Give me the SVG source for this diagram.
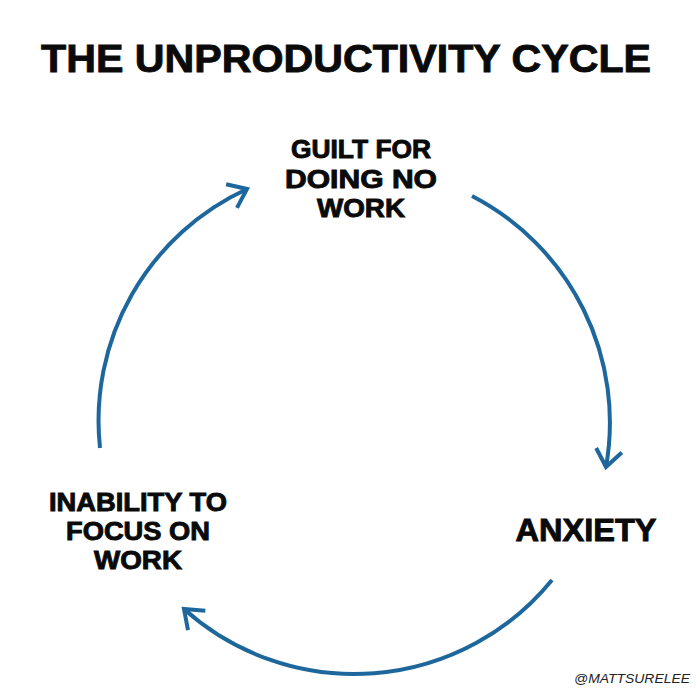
<svg xmlns="http://www.w3.org/2000/svg" width="700" height="700" viewBox="0 0 700 700">
  <defs>
    <style>
      .t { font-family: "Liberation Sans", Arial, sans-serif; font-weight: bold; fill: #0a0a0a; stroke: #0a0a0a; stroke-width: 0.9; text-anchor: middle; }
      .arc { fill: none; stroke: #1d679c; stroke-width: 4; stroke-linecap: butt; }
    </style>
    <marker id="ah" markerUnits="userSpaceOnUse" markerWidth="40" markerHeight="40" viewBox="-30 -20 40 40" refX="0" refY="0" orient="auto">
      <path d="M -17 -13 L 0 0 L -17 13" fill="none" stroke="#1d679c" stroke-width="4"/>
    </marker>
  </defs>
  <rect width="700" height="700" fill="#ffffff"/>
  <text class="t" x="346" y="72" font-size="39" stroke-width="1.4" textLength="610" lengthAdjust="spacingAndGlyphs">THE UNPRODUCTIVITY CYCLE</text>
  <g id="connectors">
    <path class="arc" marker-end="url(#ah)" d="M 100 448 A 255 255 0 0 1 247 189"/>
    <path class="arc" marker-end="url(#ah)" d="M 472 196 A 255 255 0 0 1 606 467"/>
    <path class="arc" marker-end="url(#ah)" d="M 552 580 A 255 255 0 0 1 184 609"/>
  </g>
  <g id="guilt">
    <text class="t" x="361" y="158" font-size="25" textLength="140" lengthAdjust="spacingAndGlyphs">GUILT FOR</text>
    <text class="t" x="361" y="188" font-size="25" textLength="152" lengthAdjust="spacingAndGlyphs">DOING NO</text>
    <text class="t" x="361" y="217" font-size="25" textLength="88" lengthAdjust="spacingAndGlyphs">WORK</text>
  </g>
  <g id="anxiety">
    <text class="t" x="586" y="541" font-size="31" textLength="141" lengthAdjust="spacingAndGlyphs">ANXIETY</text>
  </g>
  <g id="inability">
    <text class="t" x="138" y="511" font-size="25" textLength="178" lengthAdjust="spacingAndGlyphs">INABILITY TO</text>
    <text class="t" x="138" y="540" font-size="25" textLength="144" lengthAdjust="spacingAndGlyphs">FOCUS ON</text>
    <text class="t" x="138" y="569" font-size="25" textLength="88" lengthAdjust="spacingAndGlyphs">WORK</text>
  </g>
  <text x="632" y="683" font-family="'Liberation Sans', Arial, sans-serif" font-size="13" font-style="italic" fill="#222" text-anchor="middle" textLength="116" lengthAdjust="spacingAndGlyphs">@MATTSURELEE</text>
</svg>
